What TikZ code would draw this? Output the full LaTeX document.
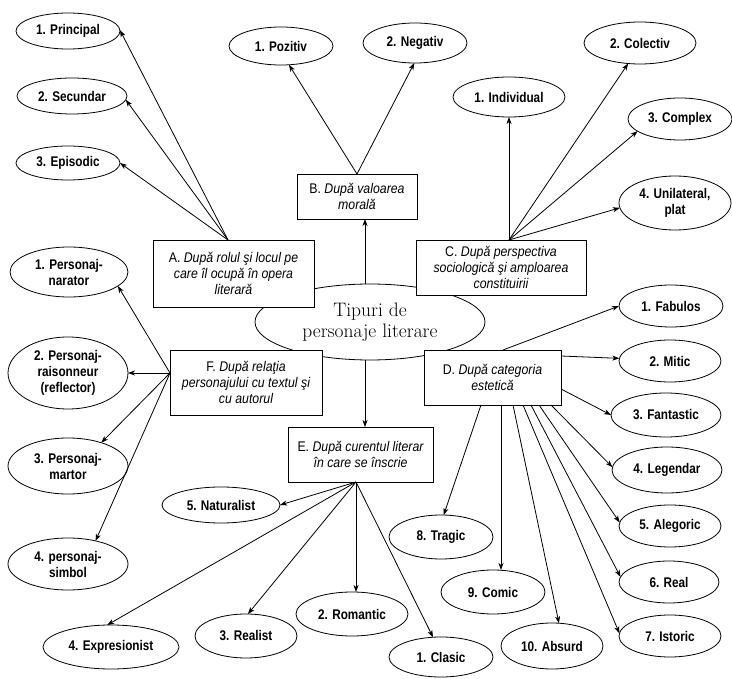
\documentclass[tikz,border=0pt]{standalone}
\usepackage{fontspec}
\newfontfamily\narrowfont[FakeStretch=0.84]{Liberation Sans}
\newfontfamily\boxfont[FakeStretch=0.88]{Liberation Sans}
\usetikzlibrary{shapes.geometric,arrows.meta}
\begin{document}
\begin{tikzpicture}[x=1pt,y=-1pt,line width=0.8pt,
  leaf/.style={draw,ellipse,inner sep=0pt,outer sep=0pt,align=center,
    font=\narrowfont\bfseries\fontsize{14}{16}\selectfont},
  cat/.style={draw,fill=white,rectangle,inner sep=0pt,outer sep=0pt,align=center,
    font=\boxfont\itshape\fontsize{14}{16}\selectfont},
  arr/.style={-{Stealth[length=7pt,width=5pt,inset=2pt]}}]
\useasboundingbox[fill=white] (0,0) rectangle (732,679);

% central ellipse
\node[draw,ellipse,minimum width=230pt,minimum height=76pt,inner sep=0pt,outer sep=0pt,
  align=center,font=\fontsize{19.5}{21}\selectfont] (T) at (370,322) {Tipuri de\\personaje literare};

% category boxes
\node[cat,minimum width=161pt,minimum height=67pt] (A) at (233.5,273.5)
  {\textup{A.} După rolul şi locul pe\\care îl ocupă în opera\\literară};
\node[cat,minimum width=120pt,minimum height=45pt] (B) at (357,196.5)
  {\textup{B.} După valoarea\\morală};
\node[cat,minimum width=170pt,minimum height=55pt] (C) at (501,267.5)
  {\textup{C.} După perspectiva\\sociologică şi amploarea\\constituirii};
\node[cat,minimum width=137pt,minimum height=55pt] (D) at (492.5,377.5)
  {\textup{D.} După categoria\\estetică};
\node[cat,minimum width=145pt,minimum height=55pt] (E) at (360.5,454.5)
  {\textup{E.} După curentul literar\\în care se înscrie};
\node[cat,minimum width=152pt,minimum height=65pt] (F) at (246,382.5)
  {\textup{F.} După relaţia\\personajului cu textul şi\\cu autorul};

% leaves A
\node[leaf,minimum width=104pt,minimum height=36pt] (P1) at (68,31) {1. Principal};
\node[leaf,minimum width=110pt,minimum height=36pt] (P2) at (72,96) {2. Secundar};
\node[leaf,minimum width=104pt,minimum height=34pt] (P3) at (68,163) {3. Episodic};
% leaves B
\node[leaf,minimum width=104pt,minimum height=38pt] (B1) at (281,46) {1. Pozitiv};
\node[leaf,minimum width=104pt,minimum height=40pt] (B2) at (415,43) {2. Negativ};
% leaves C
\node[leaf,minimum width=112pt,minimum height=40pt] (C1) at (509,97) {1. Individual};
\node[leaf,minimum width=112pt,minimum height=42pt] (C2) at (640,43) {2. Colectiv};
\node[leaf,minimum width=104pt,minimum height=42pt] (C3) at (680,119) {3. Complex};
\node[leaf,minimum width=112pt,minimum height=54pt] (C4) at (675,203) {4. Unilateral,\\plat};
% leaves D
\node[leaf,minimum width=104pt,minimum height=42pt] (D1) at (671,306) {1. Fabulos};
\node[leaf,minimum width=102pt,minimum height=42pt] (D2) at (670,361) {2. Mitic};
\node[leaf,minimum width=110pt,minimum height=44pt] (D3) at (666,415) {3. Fantastic};
\node[leaf,minimum width=110pt,minimum height=46pt] (D4) at (667,470) {4. Legendar};
\node[leaf,minimum width=102pt,minimum height=42pt] (D5) at (670,526) {5. Alegoric};
\node[leaf,minimum width=100pt,minimum height=42pt] (D6) at (669,582) {6. Real};
\node[leaf,minimum width=102pt,minimum height=42pt] (D7) at (670,636) {7. Istoric};
\node[leaf,minimum width=104pt,minimum height=44pt] (D8) at (441,537) {8. Tragic};
\node[leaf,minimum width=104pt,minimum height=44pt] (D9) at (493,592) {9. Comic};
\node[leaf,minimum width=102pt,minimum height=46pt] (D10) at (552,646) {10. Absurd};
% leaves E
\node[leaf,minimum width=104pt,minimum height=40pt] (E1) at (441,657) {1. Clasic};
\node[leaf,minimum width=112pt,minimum height=44pt] (E2) at (352,614) {2. Romantic};
\node[leaf,minimum width=102pt,minimum height=44pt] (E3) at (246,636) {3. Realist};
\node[leaf,minimum width=136pt,minimum height=44pt] (E4) at (111,647) {4. Expresionist};
\node[leaf,minimum width=118pt,minimum height=36pt] (E5) at (221,505) {5. Naturalist};
% leaves F
\node[leaf,minimum width=118pt,minimum height=50pt] (F1) at (69,272) {1. Personaj-\\narator};
\node[leaf,minimum width=120pt,minimum height=72pt] (F2) at (68,373) {2. Personaj-\\raisonneur\\(reflector)};
\node[leaf,minimum width=120pt,minimum height=56pt] (F3) at (68,466) {3. Personaj-\\martor};
\node[leaf,minimum width=120pt,minimum height=52pt] (F4) at (68,564) {4. personaj-\\simbol};

% start points
\coordinate (as) at ([xshift=-5.5pt]A.north);
\coordinate (cs) at ([xshift=8pt]C.north);
\coordinate (es) at ([xshift=-4.5pt]E.south);
\coordinate (fs) at ([yshift=9.5pt]F.west);
\coordinate (d9s) at ([xshift=8.5pt]D.south);

% centre to B and E
\draw[arr] ([xshift=-5pt]T.north) -- ([xshift=8pt]B.south);
\draw[arr] ([xshift=-5pt]T.south) -- ([xshift=4.5pt]E.north);

% A
\draw[arr] (as) -- (P1.1);
\draw[arr] (as) -- (P2.-4);
\draw[arr] (as) -- (P3.east);
% B
\draw[arr] (B.north) -- (B1.293);
\draw[arr] (B.north) -- (B2.268);
% C
\draw[arr] (cs) -- (C1.south);
\draw[arr] (cs) -- (C2.240);
\draw[arr] (cs) -- (C3.196);
\draw[arr] (cs) -- (C4.185);
% D
\draw[arr] ([xshift=10.5pt]D.north) -- (D1.west);
\draw[arr] ([yshift=21.5pt]D.east) -- (D2.177);
\draw[arr] ([yshift=-11.5pt]D.east) -- (D3.west);
\draw[arr] ([xshift=-11.5pt]D.south) -- (D8.83);
\draw[arr] (d9s) -- (d9s |- D9.north);
\draw[arr] ([xshift=20.5pt]D.south) -- (D10.73);
\draw[arr] ([xshift=30.5pt]D.south) -- (D7.177);
\draw[arr] ([xshift=38.5pt]D.south) -- (D6.174);
\draw[arr] ([xshift=46.5pt]D.south) -- (D5.176);
\draw[arr] ([xshift=58.5pt]D.south) -- (D4.177);
% E
\draw[arr] (es) -- (E5.east);
\draw[arr] (es) -- (E4.100);
\draw[arr] (es) -- (E3.85);
\draw[arr] (es) -- (es |- E2.north);
\draw[arr] (es) -- (E1.112);
% F
\draw[arr] (fs) -- (F1.344);
\draw[arr] (fs) -- (fs -| F2.east);
\draw[arr] (fs) -- (F3.35);
\draw[arr] (fs) -- (F4.40);
\end{tikzpicture}
\end{document}
